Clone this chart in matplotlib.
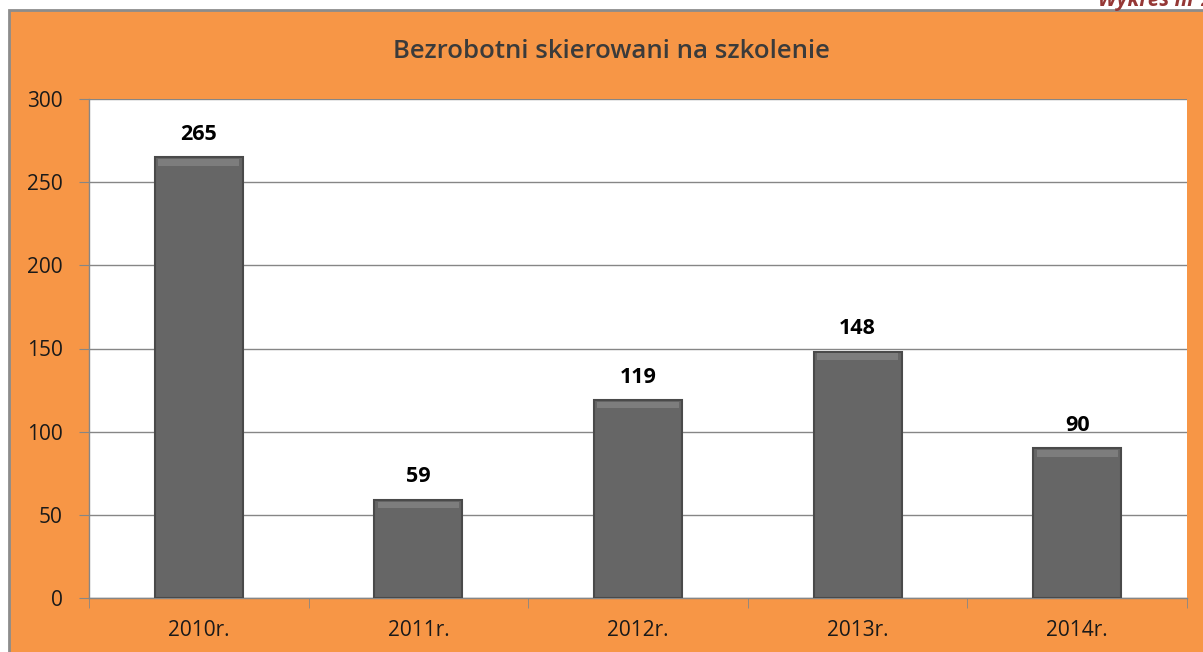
import matplotlib
matplotlib.use("Agg")
import matplotlib.pyplot as plt
from matplotlib.patches import Rectangle
import numpy as np

categories = ["2010r.", "2011r.", "2012r.", "2013r.", "2014r."]
values = [265, 59, 119, 148, 90]
yticks = [0, 50, 100, 150, 200, 250, 300]
title = "Bezrobotni skierowani na szkolenie"
corner_text = "Wykres nr 2"

plt.rcParams['font.family'] = ['Open Sans', 'DejaVu Sans']

W, H = 1203, 652
fig = plt.figure(figsize=(W / 100, H / 100), dpi=100)
fig.patch.set_facecolor("white")

orange = "#F79646"
# orange chart background with gray border at top/left
bg = Rectangle((9 / W, -0.01), 1, 1.01 - 10 / H, transform=fig.transFigure,
               facecolor=orange, edgecolor="#8C8C8C", linewidth=2.0, zorder=-10)
fig.add_artist(bg)

fig.text(1.008, 1 - 6 / H, corner_text, ha="right", va="baseline", color="#953735",
         fontsize=15, fontweight="bold", fontstyle="italic")

fig.text(611 / W, 1 - 51 / H, title, ha="center", va="center", color="#3b3b3b",
         fontsize=18.5, fontweight="semibold")

ax = fig.add_axes([89 / W, 1 - 598 / H, (1187 - 89) / W, (598 - 99) / H])
ax.set_zorder(1)
ax.set_facecolor("white")
x = np.arange(len(categories))
ax.bar(x, values, width=0.4, color="#666666", edgecolor="#4a4a4a", linewidth=1.5, zorder=3)
# bevel highlight on top of bars
ax.bar(x, [4] * len(values), bottom=np.array(values) - 5, width=0.37,
       color="#7d7d7d", linewidth=0, zorder=4)

for xi, v in zip(x, values):
    ax.annotate(str(v), (xi, v), xytext=(0, 9), textcoords="offset points",
                ha="center", va="bottom", fontsize=15.5, fontweight="bold", color="black")

ax.set_xlim(-0.5, len(categories) - 0.5)
ax.set_ylim(0, 300)
ax.set_yticks(yticks)
ax.set_yticklabels([str(t) for t in yticks], fontsize=15, color="#1a1a1a")
ax.set_xticks(x)
ax.set_xticklabels(categories, fontsize=15, color="#1a1a1a")
ax.set_xticks(np.arange(-0.5, len(categories)), minor=True)
ax.tick_params(axis="x", which="major", length=0, pad=16)
ax.tick_params(axis="x", which="minor", length=7, color="#868686", direction="out")
ax.tick_params(axis="y", length=7, color="#868686", direction="out", pad=12)
ax.grid(axis="y", color="#868686", linewidth=1.0, zorder=0)
ax.set_axisbelow(True)
for s in ["top", "right"]:
    ax.spines[s].set_visible(False)
for s in ["left", "bottom"]:
    ax.spines[s].set_color("#868686")
    ax.spines[s].set_linewidth(1.0)

fig.savefig("out.png", dpi=100, facecolor=fig.get_facecolor())
